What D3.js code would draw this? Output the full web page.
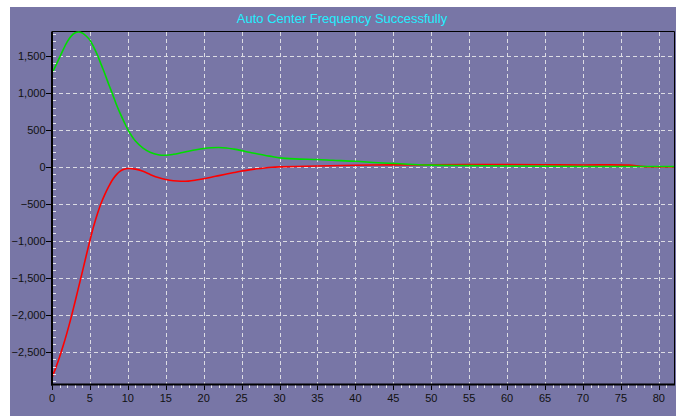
<!DOCTYPE html>
<html>
<head>
<meta charset="utf-8">
<script src="https://cdn.jsdelivr.net/npm/d3@7"></script>
<style>
  html, body { margin: 0; padding: 0; background: #ffffff; }
  svg { display: block; }
</style>
</head>
<body>
<div id="chart"></div>
<script>
// Title
var title = 'Auto Center Frequency Successfully';

// Sampled points of the green series
var greenX = [0, 0.5, 1, 1.5, 2, 2.5, 3, 3.5, 4, 4.5, 5, 5.5, 6, 6.5, 7, 7.5, 8, 8.5, 9, 9.5, 10,
  11, 12, 13, 14, 15, 16, 17, 18, 19, 20, 21, 22, 23, 24, 25, 26, 27, 28, 29, 30,
  32, 35, 37, 40, 43, 47, 50, 55, 60, 65, 70, 75, 82];
var greenY = [1270, 1370, 1480, 1590, 1690, 1765, 1810, 1825, 1810, 1770, 1714, 1620, 1510, 1380, 1250, 1110, 980, 840, 720, 610, 505,
  350, 255, 195, 165, 158, 170, 190, 212, 232, 248, 258, 262, 256, 240, 220, 198, 178, 158, 140, 122,
  108, 100, 90, 76, 55, 36, 24, 17, 12, 8, 6, 5, 5];

// Sampled points of the red series
var redX = [0, 0.5, 1, 1.5, 2, 2.5, 3, 3.5, 4, 4.5, 5, 5.5, 6, 6.5, 7, 7.5, 8, 8.5, 9, 9.5, 10,
  11, 12, 13, 14, 15, 16, 17, 18, 19, 20, 21, 22, 23, 24, 25, 26, 27, 28, 29, 30,
  32, 35, 40, 45, 50, 55, 60, 65, 70, 76, 78, 82];
var redY = [-2850, -2715, -2570, -2410, -2235, -2045, -1840, -1630, -1420, -1205, -995, -800, -630, -485, -365, -260, -170, -105, -58, -32, -22,
  -30, -60, -105, -145, -171, -188, -195, -192, -178, -160, -140, -118, -97, -76, -56, -40, -26, -14, -5, 0,
  6, 12, 22, 27, 28, 30, 32, 28, 26, 24, 4, 0];

// Tick values
var xTicks = [0, 5, 10, 15, 20, 25, 30, 35, 40, 45, 50, 55, 60, 65, 70, 75, 80];
var yTicks = [-2500, -2000, -1500, -1000, -500, 0, 500, 1000, 1500];

/***********************************************************
  Setup
***********************************************************/
var width = 676, height = 416;
var plot = { left: 52, right: 674, top: 31.5, bottom: 384.5 };
var bg = '#7876a6';

var svg = d3.select('#chart').append('svg')
  .attr('width', width)
  .attr('height', height);

svg.append('rect')
  .attr('x', 10).attr('y', 7)
  .attr('width', width - 10).attr('height', height - 7)
  .attr('fill', bg);

var x = d3.scaleLinear().domain([0, 82]).range([plot.left, plot.right]);
var y = d3.scaleLinear().domain([-2943, 1831]).range([plot.bottom, plot.top]);

/***********************************************************
  Grid
***********************************************************/
var grid = svg.append('g')
  .attr('stroke', '#dcdce4')
  .attr('stroke-width', 1)
  .attr('stroke-dasharray', '4,3')
  .attr('shape-rendering', 'crispEdges');

grid.selectAll('.vg').data(xTicks.filter(function(d) { return d > 0; }))
  .enter().append('line')
  .attr('x1', function(d) { return Math.round(x(d)) + 0.5; })
  .attr('x2', function(d) { return Math.round(x(d)) + 0.5; })
  .attr('y1', plot.top)
  .attr('y2', plot.bottom);

grid.selectAll('.hg').data(yTicks)
  .enter().append('line')
  .attr('x1', plot.left)
  .attr('x2', plot.right)
  .attr('y1', function(d) { return Math.round(y(d)) + 0.5; })
  .attr('y2', function(d) { return Math.round(y(d)) + 0.5; });

/***********************************************************
  Frame
***********************************************************/
svg.append('line')
  .attr('x1', plot.left).attr('x2', plot.right + 0.5)
  .attr('y1', 31.5).attr('y2', 31.5)
  .attr('stroke', '#000').attr('stroke-width', 1);
svg.append('line')
  .attr('x1', plot.right + 0.5).attr('x2', plot.right + 0.5)
  .attr('y1', 31.5).attr('y2', plot.bottom)
  .attr('stroke', '#000').attr('stroke-width', 1);

/***********************************************************
  Series
***********************************************************/
var line = d3.line()
  .x(function(d) { return x(d[0]); })
  .y(function(d) { return y(d[1]); })
  .curve(d3.curveCatmullRom);

svg.append('path')
  .datum(d3.zip(redX, redY))
  .attr('d', line)
  .attr('fill', 'none')
  .attr('stroke', '#ff0000')
  .attr('stroke-width', 1.6);

svg.append('path')
  .datum(d3.zip(greenX, greenY))
  .attr('d', line)
  .attr('fill', 'none')
  .attr('stroke', '#00dd00')
  .attr('stroke-width', 1.6);

/***********************************************************
  Axes
***********************************************************/
var font = '"Liberation Sans", Arial, sans-serif';

// Y axis
var yAxis = svg.append('g');
yAxis.append('line')
  .attr('x1', 52).attr('x2', 52)
  .attr('y1', plot.top).attr('y2', plot.bottom + 1)
  .attr('stroke', '#000').attr('stroke-width', 2);
yAxis.selectAll('.ymaj').data(yTicks).enter().append('line')
  .attr('x1', 46).attr('x2', 51)
  .attr('y1', function(d) { return Math.round(y(d)) + 0.5; })
  .attr('y2', function(d) { return Math.round(y(d)) + 0.5; })
  .attr('stroke', '#000');
yAxis.selectAll('.ymin').data(d3.range(-2900, 1801, 100).filter(function(d) { return d % 500 != 0; }))
  .enter().append('line')
  .attr('x1', 53).attr('x2', 56)
  .attr('y1', function(d) { return Math.round(y(d)) + 0.5; })
  .attr('y2', function(d) { return Math.round(y(d)) + 0.5; })
  .attr('stroke', '#fff').attr('stroke-opacity', 0.8);
yAxis.selectAll('text').data(yTicks).enter().append('text')
  .attr('x', 45.5)
  .attr('y', function(d) { return y(d) + 4; })
  .attr('text-anchor', 'end')
  .style('font-family', font)
  .style('font-size', '11px')
  .attr('fill', '#111')
  .text(function(d) { return d3.format(',')(d); });

// X axis
var xAxis = svg.append('g');
xAxis.append('line')
  .attr('x1', 51).attr('x2', plot.right + 1)
  .attr('y1', plot.bottom).attr('y2', plot.bottom)
  .attr('stroke', '#000').attr('stroke-width', 2);
xAxis.selectAll('.xmin').data(d3.range(1, 82).filter(function(d) { return d % 5 != 0; }))
  .enter().append('line')
  .attr('x1', function(d) { return Math.round(x(d)) + 0.5; })
  .attr('x2', function(d) { return Math.round(x(d)) + 0.5; })
  .attr('y1', 385.5).attr('y2', 388)
  .attr('stroke', '#fff').attr('stroke-opacity', 0.8);
xAxis.selectAll('.xmaj').data(xTicks).enter().append('line')
  .attr('x1', function(d) { return Math.round(x(d)) + 0.5; })
  .attr('x2', function(d) { return Math.round(x(d)) + 0.5; })
  .attr('y1', 385.5).attr('y2', 390)
  .attr('stroke', '#000');
xAxis.selectAll('text').data(xTicks).enter().append('text')
  .attr('x', function(d) { return x(d); })
  .attr('y', 401.5)
  .attr('text-anchor', 'middle')
  .style('font-family', font)
  .style('font-size', '11px')
  .attr('fill', '#111')
  .text(function(d) { return d; });

/***********************************************************
  Title
***********************************************************/
svg.append('text')
  .attr('x', 342)
  .attr('y', 22.5)
  .attr('text-anchor', 'middle')
  .style('font-family', font)
  .style('font-size', '13px')
  .attr('fill', '#22eeff')
  .text(title);
</script>
</body>
</html>
